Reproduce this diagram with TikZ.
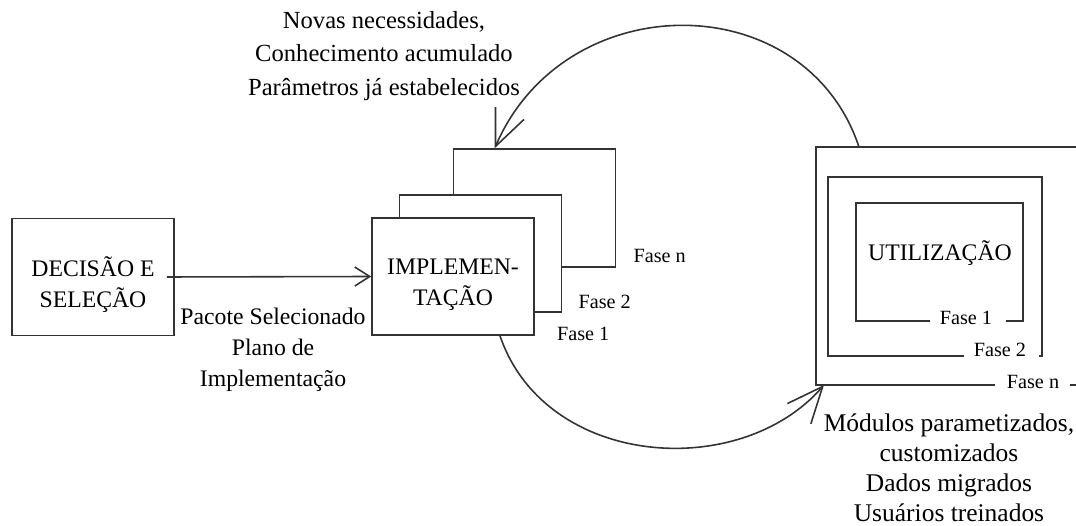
\documentclass[tikz,border=0pt]{standalone}
\usepackage{fontspec}
\setmainfont{Liberation Serif}
\usetikzlibrary{arrows.meta,calc}
\tikzset{>=stealth}
\tikzset{
  linha/.style={draw=black!80, line width=0.9pt},
  bloco/.style={linha, fill=white, minimum width=3.24cm, minimum height=2.34cm},
  fase/.style={inner sep=0pt, font=\fontsize{11.5}{13}\selectfont},
  texto/.style={align=center, inner sep=0pt, font=\fontsize{13.5}{17.5}\selectfont},
  seta/.style={linha, -{Straight Barb[length=0.3cm,width=0.38cm]}},
  arco/.style={linha, -{Straight Barb[length=0.72cm,width=0.62cm]}}
}

\begin{document}
\begin{tikzpicture}[x=0.02cm, y=-0.02cm]
        \useasboundingbox[fill=white] (0,0) rectangle (1076,526);
        %%%% decisao
        \node[bloco, label={[texto, yshift=-0.15cm]center:DECISÃO E\\SELEÇÃO}] (dec) at (93,277) {};
        %%%% implementacao, fases empilhadas
        \node[bloco, minimum height=2.36cm] (impl3) at (534.5,208) {};
        \node[bloco] (impl2) at (480.5,253.5) {};
        \node[bloco, label={[texto, yshift=-0.16cm]center:IMPLEMEN-\\TAÇÃO}] (impl) at (453,276.5) {};
        \node[fase, anchor=west] (fn) at ([shift={(17,-12)}]impl3.south east) {Fase n};
        \node[fase, anchor=west] (f2) at ([shift={(16,-11)}]impl2.south east) {Fase 2};
        \node[fase, anchor=west] (f1) at ([shift={(22,-2)}]impl.south east) {Fase 1};
        %%%% utilizacao
        \coordinate (usoNW) at (816,147);
        \coordinate (usoSW) at (816,385);
        \draw[linha] (1076,147) -- (usoNW) -- (usoSW) -- (995,385);
        \draw[linha] (1070,385) -- (1076,385);
        \draw[linha] (964,356) -- (828,356) -- (828,177) -- (1042,177) -- (1042,356) -- (1039,356);
        \draw[linha] (930,321) -- (856,321) -- (856,203) -- (1023,203) -- (1023,321) -- (1006,321);
        \node[texto] (uso) at (940,253) {UTILIZAÇÃO};
        \node[fase] (un) at (1033,382) {Fase n};
        \node[fase] (u2) at (1000,350) {Fase 2};
        \node[fase] (u1) at (966,318) {Fase 1};
        %%%% setas
        \draw[seta] ([xshift=-0.16cm]dec.east) -- (impl.west);
        \node[texto] (pacote) at (273,350) {Pacote Selecionado\\Plano de\\Implementação};
        \draw[arco] ([xshift=0.86cm]usoNW) .. controls (805,-15) and (565,-15) .. ([xshift=0.84cm]impl3.north west);
        \node[texto, font=\fontsize{14}{19}\selectfont] (novas) at (384,56) {Novas necessidades,\\Conhecimento acumulado\\Parâmetros já estabelecidos};
        \draw[arco] ([xshift=0.94cm]impl.south) .. controls (545,468) and (740,482) .. ([xshift=0.16cm]usoSW);
        \node[texto, font=\fontsize{14.5}{17}\selectfont] (modulos) at (949,468) {Módulos parametizados,\\customizados\\Dados migrados\\Usuários treinados};
    \end{tikzpicture}
\end{document}
